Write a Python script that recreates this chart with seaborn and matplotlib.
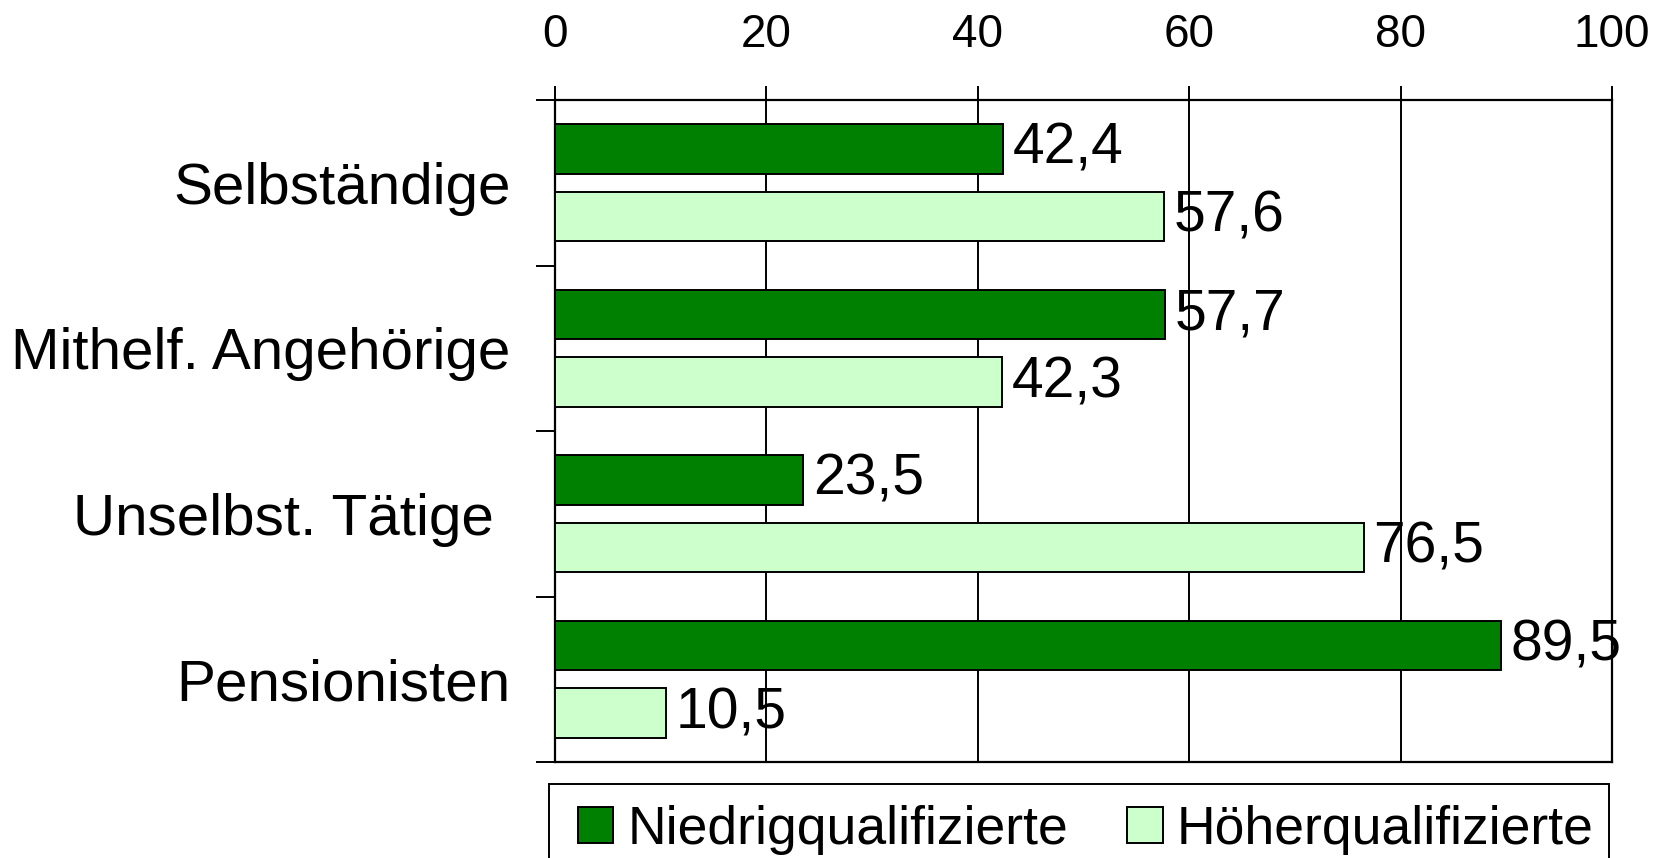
import numpy as np
import pandas as pd
import matplotlib
matplotlib.use("Agg")
import matplotlib.pyplot as plt
from matplotlib.patches import Rectangle
import seaborn as sns

# Daten
kategorien = ["Selbständige", "Mithelf. Angehörige", "Unselbst. Tätige ", "Pensionisten"]
niedrig = [42.4, 57.7, 23.5, 89.5]
hoeher = [57.6, 42.3, 76.5, 10.5]
serien = ["Niedrigqualifizierte", "Höherqualifizierte"]
farben = ["#008000", "#ccffcc"]
x_ticks = [0, 20, 40, 60, 80, 100]

df = pd.DataFrame({
    "Kategorie": kategorien * 2,
    "Wert": niedrig + hoeher,
    "Gruppe": [serien[0]] * 4 + [serien[1]] * 4,
})

sns.set_style("white")
plt.rcParams["font.family"] = ["Liberation Sans", "DejaVu Sans"]
plt.rcParams["text.color"] = "black"
plt.rcParams["xtick.color"] = "black"
plt.rcParams["ytick.color"] = "black"
plt.rcParams["axes.labelcolor"] = "black"

fig = plt.figure(figsize=(16.68, 8.58), dpi=100)
ax = fig.add_axes([0.3327, 0.1119, 0.6337, 0.7715])

sns.barplot(data=df, y="Kategorie", x="Wert", hue="Gruppe", orient="h",
            palette=farben, saturation=1, width=0.82, gap=0.27,
            edgecolor="black", linewidth=1.4, ax=ax, legend=True, zorder=3)

# Achse oben, Gitterlinien
ax.set_xlim(0, 100)
ax.set_xticks(x_ticks)
ax.xaxis.tick_top()
ax.tick_params(axis="x", labelsize=33, length=10, width=1.4, pad=21,
               direction="out")
ax.grid(axis="x", color="black", linewidth=1.4, zorder=0)
ax.set_axisbelow(True)

# Kategorien: Striche an den Gruppengrenzen, Beschriftung in der Mitte
ax.set_yticks(np.arange(-0.5, len(kategorien), 1))
ax.set_yticklabels([])
ax.set_yticks(range(len(kategorien)), minor=True)
ax.set_yticklabels(kategorien, minor=True)
ax.tick_params(axis="y", which="major", length=14, width=1.4,
               direction="out", left=True)
ax.tick_params(axis="y", which="minor", length=0, labelsize=42, pad=32)
ax.set_ylim(len(kategorien) - 0.5, -0.5)
ax.set_xlabel("")
ax.set_ylabel("")

for s in ax.spines.values():
    s.set_visible(True)
    s.set_color("black")
    s.set_linewidth(1.6)

# Werte an den Balken
for cont, werte in zip(ax.containers, [niedrig, hoeher]):
    ax.bar_label(cont, labels=[f"{v:.1f}".replace(".", ",") for v in werte],
                 padding=7, fontsize=41, color="black")

# Legende unten mit eigenem Rahmen
handles, labels = ax.get_legend_handles_labels()
ax.get_legend().remove()
for h in handles:
    h.set_edgecolor("black")
    h.set_linewidth(1.4)
fig.legend(handles, labels, loc="upper left",
           bbox_to_anchor=(0.3465, 0.0618), ncol=2, fontsize=38.5,
           frameon=False, handlelength=0.66, handleheight=0.66,
           handletextpad=0.27, columnspacing=1.1, borderpad=0,
           borderaxespad=0)
fig.patches.append(Rectangle((549 / 1668, -0.05), (1609 - 549) / 1668,
                             0.05 + 1 - 784 / 858, transform=fig.transFigure,
                             fill=False, edgecolor="black", linewidth=1.4))

fig.savefig("out.png", dpi=100)
